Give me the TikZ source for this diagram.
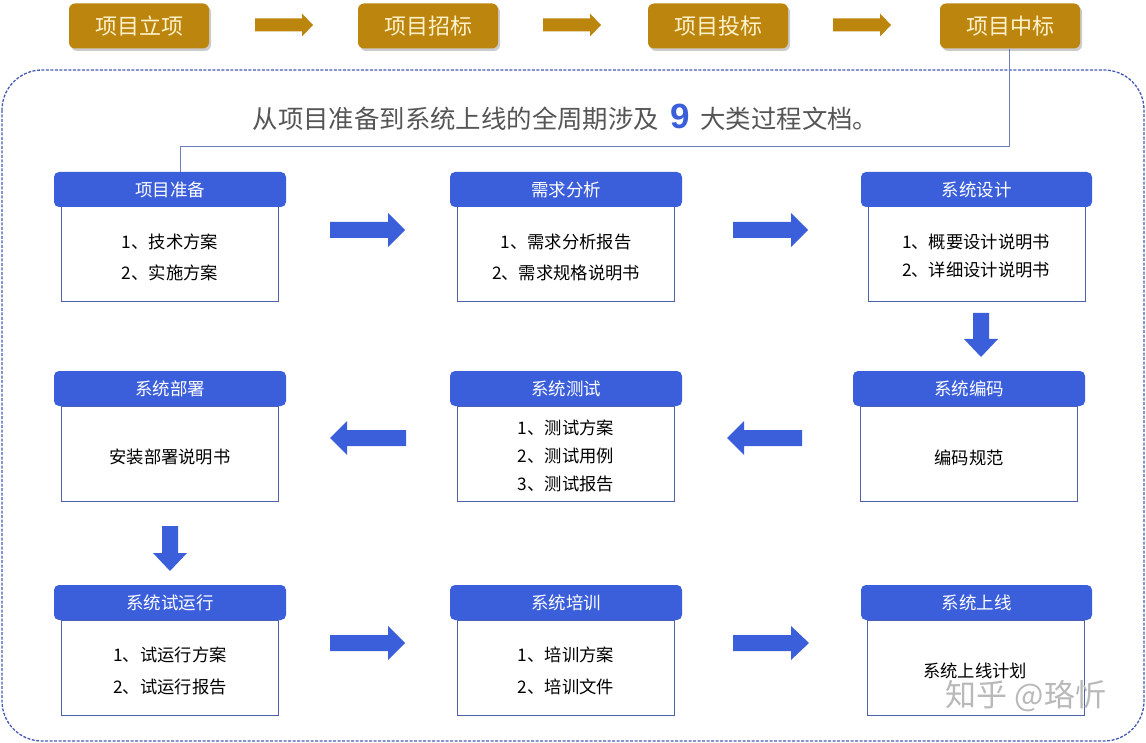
\documentclass[tikz,border=0pt]{standalone}
\usepackage{fontspec}
\setmainfont{Noto Sans CJK SC}
\newfontfamily\numfont{Liberation Sans}
\usetikzlibrary{shadows}
\definecolor{gold}{RGB}{188,133,14}
\definecolor{cream}{RGB}{255,242,205}
\definecolor{hdr}{RGB}{59,94,219}
\definecolor{bodyline}{RGB}{80,96,170}
\definecolor{dashc}{RGB}{70,90,180}
\definecolor{headtxt}{RGB}{85,85,85}
\definecolor{linkc}{RGB}{110,125,190}
\begin{document}
\begin{tikzpicture}[x=1pt,y=-1pt,
  topbox/.style={fill=gold, rounded corners=6pt, minimum width=140pt, minimum height=45pt, text=cream, inner sep=0pt,
    font=\fontsize{22}{22}\selectfont, drop shadow={shadow xshift=2pt, shadow yshift=-2.5pt, fill=black!45, opacity=.45}},
  hdrbox/.style={fill=hdr, rounded corners=5pt, minimum width=232pt, minimum height=35pt, text=white, inner sep=0pt,
    font=\fontsize{17.5}{17.5}\selectfont},
  bodybox/.style={draw=bodyline, line width=1pt, fill=white, minimum width=217pt, minimum height=95pt, inner sep=0pt},
  btxt/.style={font=\fontsize{17.3}{17.3}\selectfont, text=black, inner sep=0pt},
  barrow/.style={fill=hdr},
  garrow/.style={fill=gold}]
\useasboundingbox (0,0) rectangle (1146,743);
% outer dashed frame
\draw[dashc, dash pattern=on 3pt off 1.5pt, line width=1.3pt, rounded corners=40pt] (2,70) rectangle (1144,741);
% top stage boxes
\node[topbox] (t1) at (139,26) {项目立项};
\node[topbox] (t2) at (428,26) {项目招标};
\node[topbox] (t3) at (718,26) {项目投标};
\node[topbox] (t4) at (1010,26) {项目中标};
% gold arrows
\fill[garrow] (255,18.5) -- (302,18.5) -- (302,13.5) -- (313,25) -- (302,36.5) -- (302,31.5) -- (255,31.5) -- cycle;
\fill[garrow] (543,18.5) -- (590,18.5) -- (590,13.5) -- (601,25) -- (590,36.5) -- (590,31.5) -- (543,31.5) -- cycle;
\fill[garrow] (833,18.5) -- (880,18.5) -- (880,13.5) -- (891,25) -- (880,36.5) -- (880,31.5) -- (833,31.5) -- cycle;
% title
\node[font=\fontsize{25.4}{25.4}\selectfont, text=headtxt, inner sep=0pt] (title) at (565.5,117)
  {从项目准备到系统上线的全周期涉及\hspace{11pt}{\numfont\bfseries\fontsize{35}{35}\selectfont\color{hdr}9}\hspace{11pt}大类过程文档。};
% cards row 1
\node[bodybox] (b1) at (169.5,254.5) {};
\node[hdrbox] (h1) at (170,189.5) {项目准备};
\node[bodybox] (b2) at (566,254.5) {};
\node[hdrbox] (h2) at (566,189.5) {需求分析};
\node[bodybox] (b3) at (976.5,254.5) {};
\node[hdrbox, minimum width=231pt] (h3) at (976.5,189.5) {系统设计};
% cards row 2
\node[bodybox] (b4) at (169.5,453.5) {};
\node[hdrbox] (h4) at (170,388.5) {系统部署};
\node[bodybox] (b5) at (566,453.5) {};
\node[hdrbox] (h5) at (566,388.5) {系统测试};
\node[bodybox] (b6) at (969,453.5) {};
\node[hdrbox] (h6) at (969,388.5) {系统编码};
% cards row 3
\node[bodybox] (b7) at (169.5,667.5) {};
\node[hdrbox] (h7) at (170,602.5) {系统试运行};
\node[bodybox] (b8) at (566,667.5) {};
\node[hdrbox] (h8) at (566,602.5) {系统培训};
\node[bodybox] (b9) at (976,667.5) {};
\node[hdrbox, minimum width=231pt] (h9) at (976.5,602.5) {系统上线};
% connector from 项目中标 to 项目准备
\coordinate (c1) at (1009,146);
\coordinate (c2) at (180,146);
\draw[linkc, line width=0.8pt] (t4.south -| c1) -- (c1) -- (c2) -- (c2 |- h1.north);
% body texts
\node[btxt] (b1a) at (170,242) {1、技术方案};
\node[btxt] (b1b) at (170,273) {2、实施方案};
\node[btxt] (b2a) at (566,242) {1、需求分析报告};
\node[btxt] (b2b) at (566,273) {2、需求规格说明书};
\node[btxt] (b3a) at (976,242) {1、概要设计说明书};
\node[btxt] (b3b) at (976,270) {2、详细设计说明书};
\node[btxt] (b4a) at (170,457) {安装部署说明书};
\node[btxt] (b5a) at (566,428) {1、测试方案};
\node[btxt] (b5b) at (566,456) {2、测试用例};
\node[btxt] (b5c) at (566,484) {3、测试报告};
\node[btxt] (b6a) at (969,458) {编码规范};
\node[btxt] (b7a) at (170,655) {1、试运行方案};
\node[btxt] (b7b) at (170,687) {2、试运行报告};
\node[btxt] (b8a) at (566,655) {1、培训方案};
\node[btxt] (b8b) at (566,687) {2、培训文件};
\node[btxt] (b9a) at (975,671) {系统上线计划};
% blue block arrows
\fill[barrow] (330,222) -- (388,222) -- (388,213) -- (405,230) -- (388,247) -- (388,238) -- (330,238) -- cycle;
\fill[barrow] (733,222) -- (791,222) -- (791,213) -- (808,230) -- (791,247) -- (791,238) -- (733,238) -- cycle;
\fill[barrow] (330,438) -- (347,421) -- (347,430) -- (406,430) -- (406,446) -- (347,446) -- (347,455) -- cycle;
\fill[barrow] (727,438) -- (744,421) -- (744,430) -- (802,430) -- (802,446) -- (744,446) -- (744,455) -- cycle;
\fill[barrow] (330,635) -- (388,635) -- (388,626) -- (405,643) -- (388,660) -- (388,651) -- (330,651) -- cycle;
\fill[barrow] (733,635) -- (791,635) -- (791,626) -- (809,643) -- (791,660) -- (791,651) -- (733,651) -- cycle;
\fill[barrow] (973,313) -- (989,313) -- (989,339) -- (998,339) -- (981,357) -- (964,339) -- (973,339) -- cycle;
\fill[barrow] (162,526) -- (178,526) -- (178,553) -- (187,553) -- (170,571) -- (153,553) -- (162,553) -- cycle;
% watermark
\node[text=gray!55, font=\fontsize{31}{31}\selectfont, inner sep=0pt] (wm) at (1026,696) {知乎 @珞忻};
\end{tikzpicture}
\end{document}
